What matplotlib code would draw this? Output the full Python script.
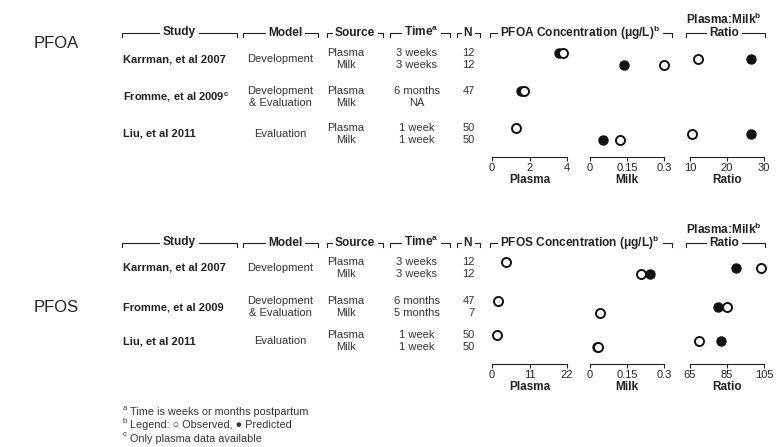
import numpy as np
import matplotlib
matplotlib.use("Agg")
import matplotlib.pyplot as plt

plt.rcParams["font.family"] = ["Liberation Sans", "DejaVu Sans"]
plt.rcParams["mathtext.fontset"] = "custom"
plt.rcParams["mathtext.rm"] = "Liberation Sans"
plt.rcParams["mathtext.bf"] = "Liberation Sans:bold"
plt.rcParams["mathtext.it"] = "Liberation Sans:italic"

# ---- table text ----
studies_pfoa = ["Karrman, et al 2007", r"Fromme, et al 2009$^{\mathbf{c}}$", "Liu, et al 2011"]
studies_pfos = ["Karrman, et al 2007", "Fromme, et al 2009", "Liu, et al 2011"]
models = [["Development"], ["Development", "& Evaluation"], ["Evaluation"]]
sources = ["Plasma", "Milk"]
times_pfoa = [["3 weeks", "3 weeks"], ["6 months", "NA"], ["1 week", "1 week"]]
times_pfos = [["3 weeks", "3 weeks"], ["6 months", "5 months"], ["1 week", "1 week"]]
n_pfoa = [["12", "12"], ["47", ""], ["50", "50"]]
n_pfos = [["12", "12"], ["47", "7"], ["50", "50"]]

# ---- concentrations (ug/L) and plasma:milk ratios; nan = not reported ----
nan = np.nan
pfoa_plasma_obs = [3.79, 1.71, 1.28]
pfoa_plasma_pred = [3.57, 1.55, nan]
pfoa_milk_obs = [0.30, nan, 0.122]
pfoa_milk_pred = [0.138, nan, 0.053]
pfoa_ratio_obs = [12.2, nan, 10.5]
pfoa_ratio_pred = [26.4, nan, 26.4]

pfos_plasma_obs = [4.1, 1.76, 1.5]
pfos_plasma_pred = [nan, nan, nan]
pfos_milk_obs = [0.207, 0.041, 0.034]
pfos_milk_pred = [0.243, nan, 0.028]
pfos_ratio_obs = [103.4, 85.0, 69.9]
pfos_ratio_pred = [89.9, 80.1, 81.8]

# ---- axis ticks ----
pfoa_plasma_ticks = [0, 2, 4]
pfoa_milk_ticks = [0, 0.15, 0.3]
pfoa_ratio_ticks = [10, 20, 30]
pfos_plasma_ticks = [0, 11, 22]
pfos_milk_ticks = [0, 0.15, 0.3]
pfos_ratio_ticks = [65, 85, 105]
pfoa_plasma_labels = ["0", "2", "4"]
pfoa_milk_labels = ["0", "0.15", "0.3"]
pfoa_ratio_labels = ["10", "20", "30"]
pfos_plasma_labels = ["0", "11", "22"]
pfos_milk_labels = ["0", "0.15", "0.3"]
pfos_ratio_labels = ["65", "85", "105"]

W, H = 778, 447
fig = plt.figure(figsize=(W / 100, H / 100), dpi=100)
canvas = fig.add_axes([0, 0, 1, 1])
canvas.set_xlim(0, W)
canvas.set_ylim(H, 0)
canvas.axis("off")
renderer = fig.canvas.get_renderer()

FS = 8
HFS = 8.6
INK = "#222222"
SOFT = "#333333"
LINE = dict(color=INK, lw=0.8)


def bracket(x0, x1, y, label, xc=None):
    """Column heading: a line with down-turned ends, broken around the label."""
    xc = (x0 + x1) / 2 if xc is None else xc
    t = canvas.text(xc, y - 0.5, label, ha="center", va="center",
                    fontsize=HFS, fontweight="bold", color=INK)
    bb = t.get_window_extent(renderer).transformed(canvas.transData.inverted())
    gap = 3
    left = min(bb.x0, bb.x1) - gap
    right = max(bb.x0, bb.x1) + gap
    canvas.plot([x0, x0, left], [y + 4, y, y], **LINE)
    canvas.plot([right, x1, x1], [y, y, y + 4], **LINE)


def panel(x0, x1, ytop, ybot, ticks, labels, title):
    ax = fig.add_axes([x0 / W, 1 - ybot / H, (x1 - x0) / W, (ybot - ytop) / H])
    ax.set_xlim(ticks[0], ticks[-1])
    ax.set_ylim(ybot, ytop)
    for s in ["top", "left", "right"]:
        ax.spines[s].set_visible(False)
    ax.spines["bottom"].set_color(INK)
    ax.spines["bottom"].set_linewidth(0.8)
    ax.set_facecolor("none")
    ax.set_yticks([])
    ax.set_xticks(ticks)
    ax.set_xticklabels(labels)
    ax.tick_params(axis="x", direction="out", length=3, width=0.8,
                   labelsize=8, pad=1.5, colors=INK)
    ax.set_xlabel(title, fontsize=8.5, fontweight="bold", labelpad=0.5,
                  color=INK)
    return ax


def dots(ax, obs, pred, ys):
    for o, p, y in zip(obs, pred, ys):
        if not np.isnan(p):
            ax.plot(p, y, "o", ms=6.5, mfc="#111111", mec="#111111",
                    mew=1.0, clip_on=False, zorder=3)
        if not np.isnan(o):
            ax.plot(o, y, "o", ms=6.5, mfc="white", mec="#111111",
                    mew=1.4, clip_on=False, zorder=4)


def block(name, name_y, head_y, rows, studies, times, ns, data, ticks,
          labels, axis_y, conc_label):
    canvas.text(34, name_y, name, fontsize=12, va="center", ha="left",
                color=INK)
    # header brackets
    bracket(122, 237, head_y, "Study", xc=179)
    bracket(243, 318, head_y, "Model", xc=285)
    bracket(327, 383, head_y, "Source", xc=355)
    bracket(390, 450, head_y, r"Time$^{\mathbf{a}}$", xc=421)
    bracket(457, 480, head_y, "N", xc=468)
    bracket(490, 672, head_y, conc_label, xc=580)
    bracket(686, 765, head_y, "Ratio", xc=724)
    canvas.text(724, head_y - 13.5, r"Plasma:Milk$^{\mathbf{b}}$", ha="center",
                va="center", fontsize=HFS, fontweight="bold", color=INK)

    for i, (yp, ym) in enumerate(rows):
        ymid = (yp + ym) / 2
        canvas.text(123, ymid, studies[i], ha="left", va="center",
                    fontsize=FS, fontweight="bold", color=INK)
        if len(models[i]) == 1:
            canvas.text(280, ymid, models[i][0], ha="center", va="center",
                        fontsize=FS, color=SOFT)
        else:
            canvas.text(280, yp, models[i][0], ha="center", va="center",
                        fontsize=FS, color=SOFT)
            canvas.text(280, ym, models[i][1], ha="center", va="center",
                        fontsize=FS, color=SOFT)
        for j, y in enumerate((yp, ym)):
            canvas.text(346, y, sources[j], ha="center", va="center",
                        fontsize=FS, color=SOFT)
            canvas.text(417, y, times[i][j], ha="center", va="center",
                        fontsize=FS, color=SOFT)
            canvas.text(475, y, ns[i][j], ha="right", va="center",
                        fontsize=FS, color=SOFT)

    ytop = rows[0][0] - 10
    ax_p = panel(492, 567, ytop, axis_y, ticks[0], labels[0], "Plasma")
    ax_m = panel(590, 664, ytop, axis_y, ticks[1], labels[1], "Milk")
    ax_r = panel(690, 764, ytop, axis_y, ticks[2], labels[2], "Ratio")
    yp = [r[0] for r in rows]
    ym = [r[1] for r in rows]
    yr = [(a + b) / 2 for a, b in rows]
    dots(ax_p, data[0], data[1], yp)
    dots(ax_m, data[2], data[3], ym)
    dots(ax_r, data[4], data[5], yr)


block("PFOA", 43, 33, [(53, 65), (91, 103), (128, 140)], studies_pfoa,
      times_pfoa, n_pfoa,
      [pfoa_plasma_obs, pfoa_plasma_pred, pfoa_milk_obs, pfoa_milk_pred,
       pfoa_ratio_obs, pfoa_ratio_pred],
      [pfoa_plasma_ticks, pfoa_milk_ticks, pfoa_ratio_ticks],
      [pfoa_plasma_labels, pfoa_milk_labels, pfoa_ratio_labels], 157,
      r"PFOA Concentration (μg/L)$^{\mathbf{b}}$")

block("PFOS", 308, 243, [(262, 274), (301, 313), (335, 347)], studies_pfos,
      times_pfos, n_pfos,
      [pfos_plasma_obs, pfos_plasma_pred, pfos_milk_obs, pfos_milk_pred,
       pfos_ratio_obs, pfos_ratio_pred],
      [pfos_plasma_ticks, pfos_milk_ticks, pfos_ratio_ticks],
      [pfos_plasma_labels, pfos_milk_labels, pfos_ratio_labels], 364,
      r"PFOS Concentration (μg/L)$^{\mathbf{b}}$")

# footnotes
notes = ["Time is weeks or months postpartum",
         "Legend: \u25CB Observed, \u25CF Predicted",
         "Only plasma data available"]
marks = ["a", "b", "c"]
for k, (m, t) in enumerate(zip(marks, notes)):
    y = 412 + 13.5 * k
    canvas.text(123, y - 4, m, fontsize=5.5, ha="left", va="center",
                color=SOFT)
    canvas.text(130, y, t, fontsize=7.8, ha="left", va="center",
                color=SOFT)

fig.savefig("out.png", dpi=100, facecolor="white")
